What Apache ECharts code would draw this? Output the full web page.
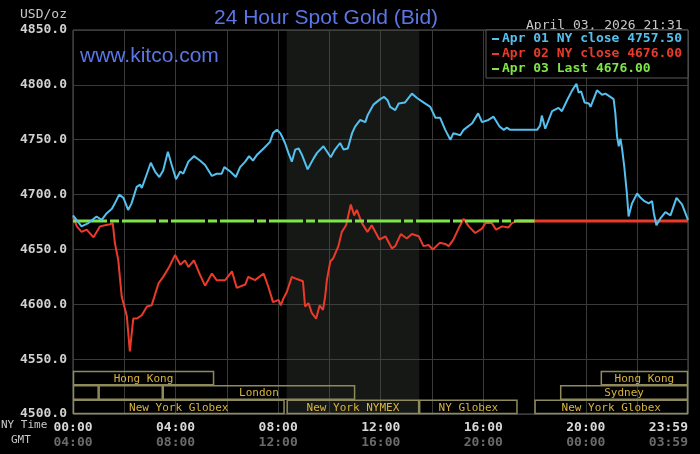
<!DOCTYPE html>
<html><head><meta charset="utf-8">
<script src="https://cdn.jsdelivr.net/npm/echarts@6/dist/echarts.min.js"></script>
<style>html,body{margin:0;padding:0;background:#000;}#c{width:700px;height:454px;}</style>
</head><body><div id="c"></div>
<script>
// minutes after NY midnight, price USD/oz
const apr01Trace = [[0,4681],[20,4671],[36,4674],[55,4680],[67,4677],[79,4683],[91,4687],[98,4692],[108,4700],[118,4697],[129,4686],[137,4692],[149,4707],[157,4709],[161,4706],[173,4719],[182,4729],[192,4721],[202,4716],[211,4722],[222,4739],[231,4727],[241,4714],[251,4721],[258,4719],[270,4730],[283,4735],[297,4731],[309,4727],[325,4717],[336,4719],[348,4719],[354,4725],[368,4721],[381,4716],[391,4725],[403,4730],[412,4735],[421,4731],[430,4736],[446,4742],[461,4748],[468,4756],[477,4759],[485,4756],[489,4753],[496,4747],[504,4738],[512,4730],[520,4741],[528,4742],[536,4736],[549,4723],[563,4733],[571,4738],[586,4744],[603,4734],[613,4741],[625,4747],[633,4741],[643,4742],[653,4756],[660,4762],[672,4768],[684,4766],[689,4772],[703,4782],[719,4787],[728,4789],[736,4786],[742,4780],[754,4777],[762,4783],[777,4784],[793,4792],[805,4788],[820,4784],[836,4780],[848,4770],[859,4770],[871,4759],[883,4750],[890,4756],[906,4754],[914,4759],[934,4765],[948,4774],[957,4766],[972,4768],[984,4771],[998,4762],[1008,4759],[1015,4761],[1023,4759],[1086,4759],[1093,4763],[1097,4772],[1105,4760],[1121,4776],[1136,4779],[1144,4776],[1156,4786],[1168,4795],[1178,4801],[1183,4793],[1189,4794],[1197,4784],[1207,4783],[1211,4780],[1226,4795],[1238,4791],[1246,4792],[1265,4787],[1269,4774],[1273,4753],[1277,4744],[1281,4751],[1285,4741],[1290,4725],[1296,4701],[1300,4680],[1308,4692],[1320,4701],[1328,4697],[1337,4694],[1347,4692],[1355,4694],[1359,4683],[1365,4672],[1374,4678],[1386,4684],[1398,4681],[1412,4697],[1425,4691],[1439,4677]];
const apr02Trace = [[0,4680],[9,4671],[20,4666],[32,4668],[48,4661],[63,4671],[75,4672],[87,4673],[93,4674],[98,4656],[106,4640],[114,4607],[126,4589],[133,4557],[141,4587],[149,4587],[161,4590],[173,4598],[184,4599],[200,4619],[211,4625],[225,4634],[239,4645],[251,4636],[262,4640],[270,4634],[283,4640],[297,4627],[309,4617],[325,4628],[336,4622],[356,4622],[372,4630],[383,4615],[403,4618],[410,4625],[426,4622],[446,4628],[457,4616],[468,4602],[481,4604],[486,4599],[492,4605],[500,4611],[512,4625],[524,4623],[538,4621],[543,4598],[551,4601],[559,4592],[569,4587],[577,4599],[585,4595],[590,4607],[594,4622],[602,4639],[609,4642],[621,4653],[629,4666],[639,4672],[650,4691],[658,4681],[664,4686],[676,4674],[689,4666],[699,4672],[717,4659],[731,4662],[746,4651],[754,4653],[767,4664],[781,4660],[793,4664],[809,4662],[820,4653],[832,4654],[842,4650],[858,4656],[871,4655],[879,4653],[890,4659],[902,4669],[914,4678],[926,4671],[941,4665],[957,4669],[965,4674],[980,4674],[990,4668],[1004,4671],[1019,4670],[1027,4674],[1040,4676]];
const apr02Close = [[1040,4676],[1439,4676]];
const apr03Last = [[0,4676],[1080,4676]];
// [label, start minute, end minute, row (0 = bottom)]
const sessions = [
  ['Hong Kong',0,330,2],['',0,60,1],['',60,210,1],['London',210,660,1],
  ['New York Globex',0,495,0],['New York NYMEX',500,810,0],['NY Globex',810,1040,0],
  ['New York Globex',1080,1439,0],['Sydney',1140,1439,1],['Hong Kong',1235,1439,2]
];
const nymexHours = [500,810];
const xTickMinutes = [0,240,480,720,960,1200,1439];
const legendText = {
  apr01:'Apr 01 NY close 4757.50',
  apr02:'Apr 02 NY close 4676.00',
  apr03:'Apr 03 Last 4676.00'
};
const C_BLUE='#55c0ee', C_RED='#ec3a2a', C_GREEN='#7fe64a';
const mono="'DejaVu Sans Mono', monospace";
const sans="'Liberation Sans', Arial, sans-serif";
function hhmm(m){const h=Math.floor(m/60)%24, mm=m%60;return String(h).padStart(2,'0')+':'+String(mm).padStart(2,'0');}

const chart = echarts.init(document.getElementById('c'));
chart.setOption({
  backgroundColor:'#000',
  animation:false,
  title:[
    {text:'24 Hour Spot Gold (Bid)', left:209, top:3, textStyle:{fontFamily:sans,fontSize:21,fontWeight:'normal',color:'#5b76e6'}},
    {text:'www.kitco.com', left:75, top:41, textStyle:{fontFamily:sans,fontSize:21,fontWeight:'normal',color:'#5b76e6'}},
    {text:'April 03, 2026 21:31', left:521, top:14, textStyle:{fontFamily:mono,fontSize:13,fontWeight:'normal',color:'#c8c8c8'}}
  ],
  graphic:[
    {type:'text', left:20, top:8, style:{text:'USD/oz', font:'13px '+mono, fill:'#c8c8c8'}},
    {type:'text', left:1, top:420, style:{text:'NY Time', font:'11px '+mono, fill:'#c8c8c8'}},
    {type:'text', left:11, top:435, style:{text:'GMT', font:'11px '+mono, fill:'#c8c8c8'}}
  ],
  legend:{
    orient:'vertical', right:12, top:30, align:'left',
    backgroundColor:'#000', borderColor:'#5a5a5a', borderWidth:1,
    padding:[2,6,2,6], itemGap:1, itemWidth:7, itemHeight:2, icon:'rect',
    selectedMode:false,
    data:[{name:'apr01',textStyle:{color:C_BLUE}},{name:'apr02',textStyle:{color:C_RED}},{name:'apr03',textStyle:{color:C_GREEN}}],
    formatter:n=>legendText[n],
    textStyle:{fontFamily:mono,fontSize:13,fontWeight:'bold',lineHeight:14,padding:[0,0,0,-2]},
    z:10
  },
  grid:[
    {left:73,right:12,top:30,bottom:40,show:true,borderColor:'#5a5a5a',borderWidth:1,backgroundColor:'#000'},
    {left:73,right:12,top:371,height:43}
  ],
  xAxis:[
    {type:'value',gridIndex:0,min:0,max:1439,interval:120,
     axisLine:{show:false},axisTick:{show:false},
     splitLine:{show:true,lineStyle:{color:'#3a3a3a',width:1}},
     axisLabel:{show:true,showMinLabel:true,showMaxLabel:true,alignMaxLabel:'right',margin:6,
       formatter:v=>xTickMinutes.indexOf(v)>=0?('{a|'+hhmm(v)+'}\n{b|'+hhmm((v+240)%1440)+'}'):'',
       rich:{a:{fontFamily:mono,fontSize:13,fontWeight:'bold',color:'#d8d8d8',lineHeight:15},
             b:{fontFamily:mono,fontSize:13,fontWeight:'bold',color:'#6a6a6a',lineHeight:15}}}},
    {type:'value',gridIndex:1,min:0,max:1439,show:false}
  ],
  yAxis:[
    {type:'value',gridIndex:0,min:4500,max:4850,interval:50,
     axisLine:{show:false},axisTick:{show:false},
     splitLine:{show:true,lineStyle:{color:'#3a3a3a',width:1}},
     axisLabel:{margin:6,fontFamily:mono,fontSize:13,fontWeight:'bold',color:'#d0d0d0',formatter:v=>v.toFixed(1),showMaxLabel:true,showMinLabel:true}},
    {type:'value',gridIndex:1,min:0,max:3,show:false}
  ],
  series:[
    {type:'line',name:'apr02',data:apr02Trace,showSymbol:false,z:3,
     lineStyle:{color:C_RED,width:2},itemStyle:{color:C_RED},
     markArea:{silent:true,itemStyle:{color:'rgba(70,80,70,0.30)'},data:[[{xAxis:nymexHours[0]},{xAxis:nymexHours[1]}]]}},
    {type:'line',name:'apr02',data:apr02Close,showSymbol:false,z:3,lineStyle:{color:C_RED,width:3},itemStyle:{color:C_RED}},
    {type:'line',name:'apr03',data:apr03Last,showSymbol:false,z:4,lineStyle:{color:C_GREEN,width:3,type:[34,3,9,3]},itemStyle:{color:C_GREEN}},
    {type:'line',name:'apr01',data:apr01Trace,showSymbol:false,z:5,lineStyle:{color:C_BLUE,width:2},itemStyle:{color:C_BLUE}},
    {type:'custom',xAxisIndex:1,yAxisIndex:1,silent:true,z:6,
     data:sessions.map(s=>[s[1],s[2],s[3],s[0]]),
     renderItem:(params,api)=>{
       const s=api.value(0), e=api.value(1), r=api.value(2);
       const label=sessions[params.dataIndex][0];
       const p0=api.coord([s,r+1]), p1=api.coord([e,r]);
       return {type:'group',children:[
         {type:'rect',shape:{x:p0[0]+0.5,y:p0[1]+0.5,width:p1[0]-p0[0]-1,height:p1[1]-p0[1]-1},
          style:{fill:null,stroke:'#8f8a5c',lineWidth:1.5}},
         {type:'text',style:{text:label,x:(p0[0]+p1[0])/2,y:(p0[1]+p1[1])/2+1,align:'center',verticalAlign:'middle',
          font:'11px '+mono,fill:'#d8b440'}}
       ]};
     }}
  ]
});
</script></body></html>
